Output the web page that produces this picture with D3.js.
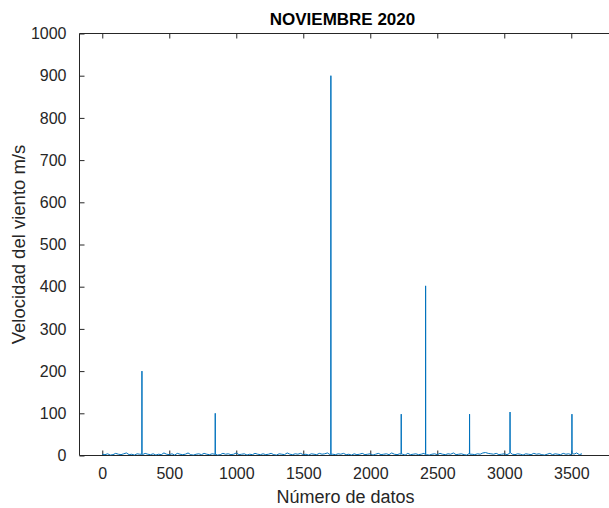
<!DOCTYPE html>
<html><head><meta charset="utf-8">
<script src="https://cdn.jsdelivr.net/npm/d3@7"></script>
<style>
html,body{margin:0;padding:0;background:#fff;}
svg{display:block;font-family:"Liberation Sans",Arial,Helvetica,sans-serif;}
</style></head>
<body>
<script>
// ---- data ----
const chartTitle = "NOVIEMBRE 2020";
const xLabel = "Número de datos";
const yLabel = "Velocidad del viento m/s";
const xTicks = [0, 500, 1000, 1500, 2000, 2500, 3000, 3500];
const yTicks = [0, 100, 200, 300, 400, 500, 600, 700, 800, 900, 1000];
const baseStep = 20;
// baseline wind speed read every 20 samples (index 0..3580)
const baseSpeed = [
  3,2,4,1,2,5,3,2,4,6,2,3,1,4,3,2,5,3,2,4,
  1,3,2,6,3,2,4,1,5,3,2,3,6,2,1,3,4,2,5,3,
  2,4,3,1,2,5,3,4,2,3,6,2,3,4,1,3,2,5,3,2,
  4,2,3,5,2,1,4,3,2,6,3,2,4,3,5,2,3,1,4,3,
  2,5,3,4,6,2,3,2,4,3,5,2,3,1,4,2,3,5,2,3,
  4,1,3,5,2,3,4,2,6,3,2,4,3,1,5,2,3,4,2,3,
  5,2,1,3,4,2,5,3,2,4,3,6,2,3,4,2,1,5,3,2,
  4,3,6,7,5,4,3,5,2,3,4,2,5,3,2,4,3,1,4,3,
  2,5,3,4,2,1,3,5,2,4,3,2,5,3,4,2,3,6,2,4
];
// spikes (with their immediate neighbours)
const spikeIndex = [295, 296, 297, 842, 843, 844, 1705, 1706, 1707, 2230, 2231, 2232,
                    2412, 2413, 2414, 2740, 2741, 2742, 3042, 3043, 3044, 3504, 3505, 3506];
const spikeSpeed = [3, 200, 2, 2, 100, 3, 2, 900, 3, 3, 98, 4, 2, 402, 3, 4, 98, 3, 6, 103, 7, 5, 98, 6];

// ---- layout ----
const W = 609, H = 508;
const L = 79.5, T = 33.5, B = 455.5;
const pxPerUnit = 0.134;
const xMin = -170, xMax = 3800;
const R = L + (xMax - xMin) * pxPerUnit;

const svg = d3.select("body").append("svg").attr("width", W).attr("height", H);
svg.append("rect").attr("width", W).attr("height", H).attr("fill", "#fff");

const x = d3.scaleLinear().domain([xMin, xMax]).range([L, R]);
const y = d3.scaleLinear().domain([0, 1000]).range([B, T]);

// build series
const pts = baseSpeed.map((v, i) => ({i: i * baseStep, v}));
spikeIndex.forEach((idx, k) => pts.push({i: idx, v: spikeSpeed[k]}));
pts.sort((a, b) => a.i - b.i);

const axisColor = "#262626";
const tickLen = 5;

svg.append("defs").append("clipPath").attr("id", "clip")
  .append("rect").attr("x", L).attr("y", T).attr("width", R - L).attr("height", B - T);

// axes
const gx = svg.append("g").attr("transform", `translate(0,${B})`)
  .call(d3.axisBottom(x).tickValues(xTicks).tickSize(-tickLen).tickPadding(12).tickFormat(d3.format("d")));
const gxTop = svg.append("g").attr("transform", `translate(0,${T})`)
  .call(d3.axisTop(x).tickValues(xTicks).tickSize(-tickLen).tickFormat(""));
const gy = svg.append("g").attr("transform", `translate(${L},0)`)
  .call(d3.axisLeft(y).tickValues(yTicks).tickSize(-tickLen).tickPadding(13).tickFormat(d3.format("d")));

[gx, gxTop, gy].forEach(g => {
  g.select(".domain").attr("stroke", axisColor).attr("stroke-width", 1);
  g.selectAll(".tick line").attr("stroke", axisColor).attr("stroke-width", 1);
  g.selectAll(".tick text").attr("fill", axisColor)
    .style("font-size", "16px").style("font-family", "'Liberation Sans', Arial, sans-serif");
});
gx.select(".domain").attr("d", `M${L},0H${R}`);
gxTop.select(".domain").attr("d", `M${L},0H${R}`);
gy.select(".domain").attr("d", `M0,${B}V${T}`);

// data line
const line = d3.line().x(d => x(d.i)).y(d => y(d.v));
svg.append("path").datum(pts)
  .attr("clip-path", "url(#clip)")
  .attr("d", line)
  .attr("fill", "none")
  .attr("stroke", "#0072BD")
  .attr("stroke-width", 1)
  .attr("stroke-linejoin", "miter");

// title and labels
const cx = (L + R) / 2;
svg.append("text").attr("x", cx - 3).attr("y", 25).attr("text-anchor", "middle")
  .attr("fill", "#000").style("font-size", "17px").style("font-weight", "bold").text(chartTitle);
svg.append("text").attr("x", cx).attr("y", 503).attr("text-anchor", "middle")
  .attr("fill", axisColor).style("font-size", "18px").text(xLabel);
svg.append("text").attr("transform", `translate(25,${(T + B) / 2}) rotate(-90)`)
  .attr("text-anchor", "middle").attr("fill", axisColor).style("font-size", "18.5px").text(yLabel);
</script>
</body></html>
